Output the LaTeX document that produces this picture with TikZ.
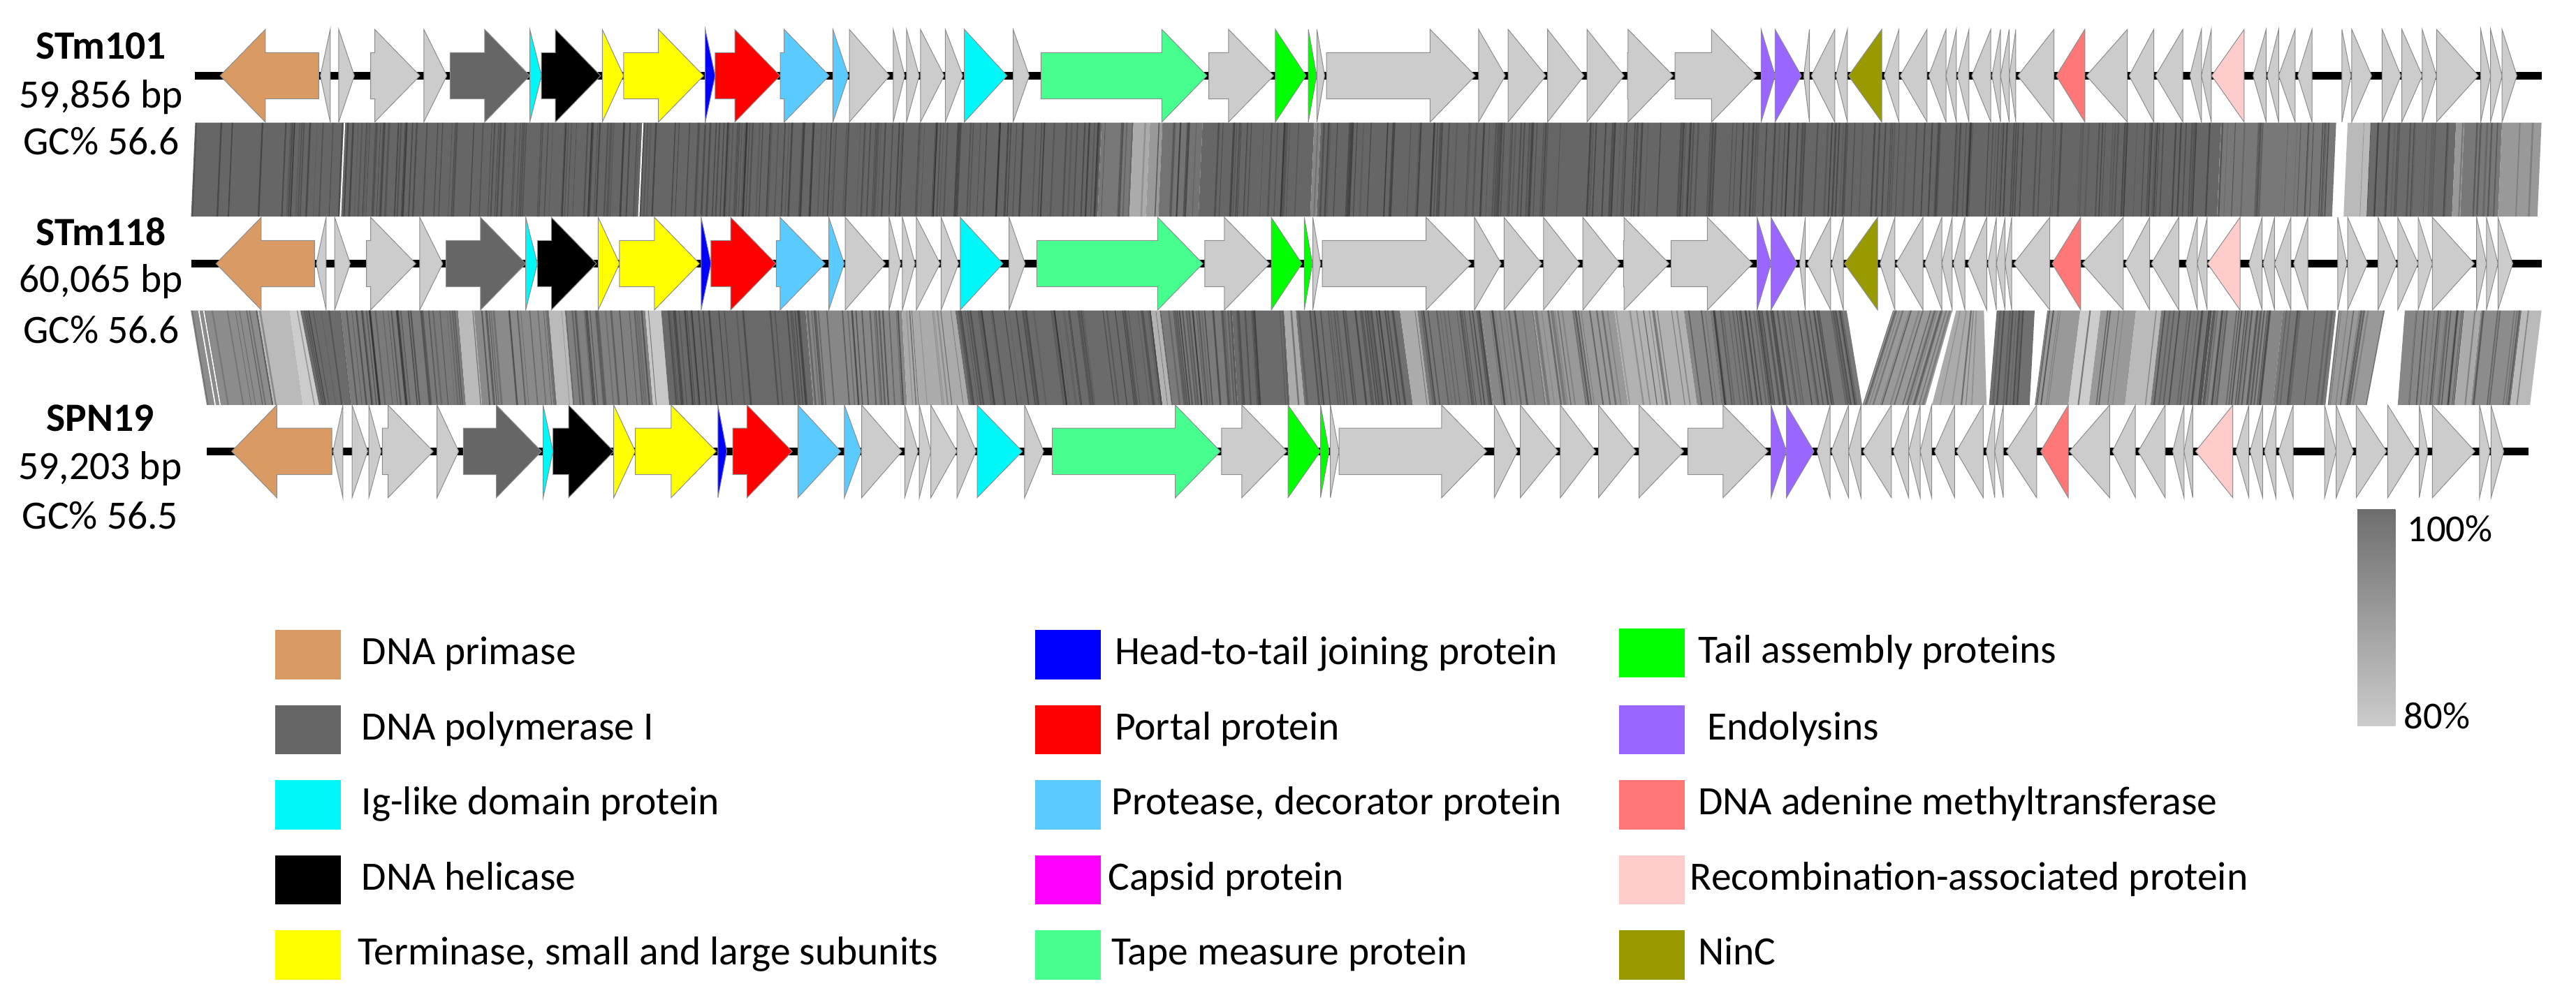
\documentclass[tikz,border=0pt]{standalone}
\usepackage{fontspec}
\setmainfont{Carlito}
\usepackage{xcolor}
\usetikzlibrary{positioning}

% gene colours
\definecolor{primase}{HTML}{D99A64}
\definecolor{polI}{HTML}{666666}
\definecolor{iglike}{HTML}{00F8F8}
\definecolor{helicase}{HTML}{000000}
\definecolor{terminase}{HTML}{FFFF00}
\definecolor{headtail}{HTML}{0000FF}
\definecolor{portal}{HTML}{FF0000}
\definecolor{protease}{HTML}{5BCBFF}
\definecolor{capsid}{HTML}{FF00FF}
\definecolor{tapemeasure}{HTML}{47FF8F}
\definecolor{tailasm}{HTML}{00FF00}
\definecolor{endolysin}{HTML}{9966FF}
\definecolor{methylase}{HTML}{FF7777}
\definecolor{recomb}{HTML}{FFCCCC}
\definecolor{ninc}{HTML}{999900}
\definecolor{hypo}{HTML}{CCCCCC}

% forward gene: start, end, colour (row height in \rowy)
\newcommand{\gfwd}[3]{%
  \pgfmathsetmacro{\gbase}{max(#1,#2-27.5)}%
  \filldraw[gene, fill=#3] (#1,\rowy-14.1) -- (\gbase,\rowy-14.1) -- (\gbase,\rowy-28.2) -- (#2,\rowy)
    -- (\gbase,\rowy+28.2) -- (\gbase,\rowy+14.1) -- (#1,\rowy+14.1) -- cycle;}
% reverse gene: tip, end, colour
\newcommand{\grev}[3]{%
  \pgfmathsetmacro{\gbase}{min(#2,#1+27.5)}%
  \filldraw[gene, fill=#3] (#2,\rowy-14.1) -- (\gbase,\rowy-14.1) -- (\gbase,\rowy-28.2) -- (#1,\rowy)
    -- (\gbase,\rowy+28.2) -- (\gbase,\rowy+14.1) -- (#2,\rowy+14.1) -- cycle;}
% similarity block: top x1, top x2, bottom x1, bottom x2, shade, streak density
\newcommand{\bandpiece}[6]{%
  \fill[#5] (#1,\bandtop) -- (#2,\bandtop) -- (#4,\bandbot) -- (#3,\bandbot) -- cycle;
  \pgfmathtruncatemacro{\nstreak}{max(1,(#2-#1)*#6)}%
  \foreach \k in {1,...,\nstreak}{%
    \pgfmathsetmacro{\posf}{rnd}%
    \pgfmathsetmacro{\swidth}{0.2+0.6*rnd}%
    \pgfmathsetmacro{\sop}{0.15+0.35*rnd}%
    \draw[streak, line width=\swidth pt, opacity=\sop]
      ({#1+\posf*(#2-#1)},\bandtop) -- ({#3+\posf*(#4-#3)},\bandbot);
  }}

% gene map shared by STm101 and STm118
\newcommand{\genesSTm}{%
  \grev{134}{194}{primase}
  \grev{195}{201}{hypo}
  \gfwd{206.2}{215.7}{hypo}
  \gfwd{225.6}{255.6}{hypo}
  \gfwd{258}{272}{hypo}
  \gfwd{274}{322.5}{polI}
  \gfwd{322.5}{329.6}{iglike}
  \gfwd{329.6}{365.6}{helicase}
  \gfwd{366.6}{379.6}{terminase}
  \gfwd{379.6}{428.3}{terminase}
  \gfwd{429.3}{435.3}{headtail}
  \gfwd{435.3}{474.8}{portal}
  \gfwd{475}{504.8}{protease}
  \gfwd{507}{516.4}{protease}
  \gfwd{517}{541.5}{hypo}
  \gfwd{543.7}{550.7}{hypo}
  \gfwd{551.8}{559.5}{hypo}
  \gfwd{560.3}{574.7}{hypo}
  \gfwd{575.4}{586}{hypo}
  \gfwd{587}{613}{iglike}
  \gfwd{616.7}{626.5}{hypo}
  \gfwd{633.6}{734.7}{tapemeasure}
  \gfwd{735.8}{775.3}{hypo}
  \gfwd{776.3}{795}{tailasm}
  \gfwd{796.4}{801.4}{tailasm}
  \gfwd{801.6}{806.3}{hypo}
  \gfwd{807.4}{898}{hypo}
  \gfwd{900}{916.3}{hypo}
  \gfwd{918}{941}{hypo}
  \gfwd{942}{964.2}{hypo}
  \gfwd{966}{988.6}{hypo}
  \gfwd{990.7}{1018.5}{hypo}
  \gfwd{1019.6}{1069.3}{hypo}
  \gfwd{1072}{1080.5}{endolysin}
  \gfwd{1080.5}{1096.5}{endolysin}
  \grev{1097.9}{1101.4}{hypo}
  \grev{1102.5}{1116.8}{hypo}
  \grev{1117.5}{1124.5}{hypo}
  \grev{1125.2}{1145.4}{ninc}
  \grev{1146.8}{1155.9}{hypo}
  \grev{1156.6}{1173}{hypo}
  \grev{1174}{1184.5}{hypo}
  \grev{1184.5}{1190.8}{hypo}
  \grev{1191.5}{1198.5}{hypo}
  \grev{1200.2}{1211.8}{hypo}
  \grev{1212.5}{1217.7}{hypo}
  \grev{1217.7}{1223}{hypo}
  \grev{1223}{1227}{hypo}
  \grev{1228.2}{1250.2}{hypo}
  \grev{1251.6}{1269}{methylase}
  \grev{1270}{1294.9}{hypo}
  \grev{1296}{1311}{hypo}
  \grev{1312}{1328.7}{hypo}
  \grev{1333}{1340}{hypo}
  \grev{1340}{1346}{hypo}
  \grev{1346.2}{1366}{recomb}
  \grev{1371.4}{1379.4}{hypo}
  \grev{1380}{1387}{hypo}
  \grev{1387}{1397}{hypo}
  \grev{1398.6}{1407.3}{hypo}
  \gfwd{1425.5}{1431}{hypo}
  \gfwd{1431.5}{1443.6}{hypo}
  \gfwd{1450}{1461.4}{hypo}
  \gfwd{1462}{1474.4}{hypo}
  \gfwd{1474.4}{1483.1}{hypo}
  \gfwd{1483.1}{1508.6}{hypo}
  \gfwd{1510}{1516}{hypo}
  \gfwd{1516}{1523}{hypo}
  \gfwd{1523}{1532}{hypo}
}

\begin{document}
\begin{tikzpicture}[
        x=0.025cm, y=-0.025cm,
        gene/.style={draw=black!45, line width=0.3pt},
        backbone/.style={line width=3.5pt, black},
        streak/.style={black!85},
        genome/.style={font=\fontsize{17.4}{20}\selectfont\bfseries, inner sep=0pt,
            text height=12pt, text depth=3.5pt},
        info/.style={font=\fontsize{17.4}{20}\selectfont, inner sep=0pt,
            text height=12pt, text depth=3.5pt},
        legsq/.style={minimum width=1cm, minimum height=0.75cm, inner sep=0pt},
        legtxt/.style={font=\fontsize{17.4}{20}\selectfont, inner sep=0pt,
            text height=12pt, text depth=3.5pt},
        pct/.style={font=\fontsize{16.5}{19}\selectfont, inner sep=0pt, anchor=west}
    ]
\useasboundingbox (0,0) rectangle (1568,613);
\pgfmathsetseed{4217}

% Similarity band STm101 - STm118
\def\bandtop{74.7}\def\bandbot{131.8}
\bandpiece{118.8}{670.6}{116.3}{668.1}{black!60}{0.35}
\bandpiece{670.6}{690}{668.1}{687.5}{black!53}{0.3}
\bandpiece{690}{700}{687.5}{697.5}{black!33}{0.1}
\bandpiece{700}{707.6}{697.5}{705.1}{black!40}{0.3}
\bandpiece{707.6}{732}{705.1}{729.5}{black!55}{0.5}
\bandpiece{732}{800}{729.5}{797.5}{black!60}{0.35}
\bandpiece{800}{804}{797.5}{801.5}{black!47}{0.1}
\bandpiece{804}{1352}{801.5}{1349.5}{black!60}{0.35}
\bandpiece{1352}{1422}{1349.5}{1419.5}{black!53}{0.25}
\bandpiece{1429}{1443}{1426.5}{1440.5}{black!27}{0.05}
\bandpiece{1443}{1495}{1440.5}{1492.5}{black!58}{0.35}
\bandpiece{1495}{1500}{1492.5}{1497.5}{black!40}{0.1}
\bandpiece{1500}{1523}{1497.5}{1520.5}{black!53}{0.3}
\bandpiece{1523}{1547}{1520.5}{1544.5}{black!40}{0.1}
\draw[white, line width=0.6pt] (209.7,\bandtop) -- (207.2,\bandbot);
\draw[white, line width=0.6pt] (391.3,\bandtop) -- (388.8,\bandbot);

% Similarity band STm118 - SPN19
\def\bandtop{189}\def\bandbot{246.5}
\bandpiece{116.1}{156.7}{125.8}{166.5}{black!45}{0.3}
\bandpiece{156.7}{176.3}{166.5}{184.4}{black!27}{0.05}
\bandpiece{176.3}{182.8}{184.4}{194.2}{black!20}{0.05}
\bandpiece{182.8}{207.2}{194.2}{213.7}{black!58}{0.3}
\bandpiece{207.2}{278.8}{213.7}{283.6}{black!52}{0.5}
\bandpiece{278.8}{288.5}{283.6}{293.4}{black!27}{0.05}
\bandpiece{288.5}{334.1}{293.4}{339}{black!46}{0.4}
\bandpiece{334.1}{343.8}{339}{348.7}{black!27}{0.1}
\bandpiece{343.8}{392.7}{348.7}{397.5}{black!50}{0.5}
\bandpiece{392.7}{402.4}{397.5}{407.3}{black!22}{0.05}
\bandpiece{402.4}{490.3}{407.3}{495.2}{black!59}{0.35}
\bandpiece{490.3}{548.9}{495.2}{552.1}{black!47}{0.4}
\bandpiece{548.9}{581.4}{552.1}{589.5}{black!33}{0.3}
\bandpiece{581.4}{700.6}{589.5}{707.6}{black!58}{0.4}
\bandpiece{700.6}{705.8}{707.6}{713}{black!30}{0.05}
\bandpiece{705.8}{749.9}{713}{753.4}{black!52}{0.6}
\bandpiece{749.9}{781.6}{753.4}{785.1}{black!58}{0.3}
\bandpiece{781.6}{788.7}{785.1}{794}{black!33}{0.05}
\bandpiece{788.7}{852.1}{794}{860}{black!56}{0.5}
\bandpiece{852.1}{862.7}{860}{870}{black!33}{0.1}
\bandpiece{862.7}{901.5}{870}{909}{black!53}{0.5}
\bandpiece{901.5}{933.2}{909}{941}{black!47}{0.4}
\bandpiece{933.2}{982.6}{941}{991}{black!40}{0.4}
\bandpiece{982.6}{1024.9}{991}{1033}{black!30}{0.3}
\bandpiece{1024.9}{1041.4}{1033}{1048.3}{black!47}{0.3}
\bandpiece{1041.4}{1124}{1048.3}{1133.5}{black!53}{0.6}
\bandpiece{1152.4}{1188.4}{1133.9}{1172}{black!40}{0.6}
\bandpiece{1190.7}{1207.6}{1176}{1209.2}{black!33}{0.3}
\bandpiece{1215.4}{1238.5}{1210.7}{1235.4}{black!56}{0.4}
\bandpiece{1246.2}{1266.3}{1238.5}{1259}{black!40}{0.3}
\bandpiece{1266.3}{1278.6}{1259}{1271.5}{black!20}{0.1}
\bandpiece{1278.6}{1300.2}{1271.5}{1293.5}{black!40}{0.3}
\bandpiece{1300.2}{1315.6}{1293.5}{1309}{black!27}{0.1}
\bandpiece{1315.6}{1346.5}{1309}{1340}{black!53}{0.5}
\bandpiece{1346.5}{1389.7}{1340}{1383.5}{black!47}{0.8}
\bandpiece{1389.7}{1422}{1383.5}{1415.5}{black!53}{0.3}
\bandpiece{1423.5}{1451.5}{1417}{1440.6}{black!40}{0.4}
\bandpiece{1463.8}{1500}{1459.5}{1494}{black!47}{0.5}
\bandpiece{1500}{1510}{1494}{1504}{black!33}{0.2}
\bandpiece{1510}{1535}{1504}{1528}{black!45}{0.4}
\bandpiece{1535}{1547}{1528}{1540}{black!27}{0.1}
\draw[white, line width=0.5pt] (121,\bandtop) -- (131,\bandbot);
\draw[white, line width=0.5pt] (124,\bandtop) -- (134,\bandbot);

% STm101
\def\rowy{46.1}
\draw[backbone] (118.8,\rowy) -- (1547,\rowy);
\genesSTm

% STm118
\begin{scope}[xshift=-0.0625cm]
\def\rowy{160.5}
\draw[backbone] (118.8,\rowy) -- (1549.5,\rowy);
\genesSTm
\end{scope}

% SPN19
\def\rowy{274.8}
\draw[backbone] (125.8,\rowy) -- (1539,\rowy);
\grev{141}{202}{primase}
\grev{202.7}{208.7}{hypo}
\gfwd{214.3}{223.8}{hypo}
\gfwd{224.5}{232}{hypo}
\gfwd{232.7}{263.7}{hypo}
\gfwd{266}{279.2}{hypo}
\gfwd{282}{329.6}{polI}
\gfwd{330.6}{336.6}{iglike}
\gfwd{336.6}{373.6}{helicase}
\gfwd{373.6}{386.7}{terminase}
\gfwd{386.7}{436}{terminase}
\gfwd{437}{442.4}{headtail}
\gfwd{446}{482.2}{portal}
\gfwd{485.7}{511.8}{protease}
\gfwd{514}{524.2}{protease}
\gfwd{524.5}{549}{hypo}
\gfwd{550.7}{558.8}{hypo}
\gfwd{559.6}{566.6}{hypo}
\gfwd{566.6}{582.5}{hypo}
\gfwd{582.5}{594.1}{hypo}
\gfwd{594.8}{622.3}{iglike}
\gfwd{623.7}{635.3}{hypo}
\gfwd{640.6}{742.9}{tapemeasure}
\gfwd{743.6}{783.4}{hypo}
\gfwd{784}{803.8}{tailasm}
\gfwd{803.8}{809}{tailasm}
\gfwd{809.8}{815}{hypo}
\gfwd{815.1}{905}{hypo}
\gfwd{909.6}{923.7}{hypo}
\gfwd{925.4}{948.4}{hypo}
\gfwd{949.8}{971.3}{hypo}
\gfwd{973}{995.9}{hypo}
\gfwd{997.7}{1024.9}{hypo}
\gfwd{1027.3}{1076.3}{hypo}
\gfwd{1078}{1087.4}{endolysin}
\gfwd{1087.4}{1104.2}{endolysin}
\grev{1106}{1114}{hypo}
\grev{1114.7}{1125.2}{hypo}
\grev{1125.2}{1132.8}{hypo}
\grev{1133.9}{1151.3}{hypo}
\grev{1152.4}{1161.8}{hypo}
\grev{1161.8}{1168.8}{hypo}
\grev{1168.8}{1175.8}{hypo}
\grev{1177.5}{1189.8}{hypo}
\grev{1190.8}{1207.2}{hypo}
\grev{1209}{1214.2}{hypo}
\grev{1214.2}{1219.4}{hypo}
\grev{1221.2}{1239.7}{hypo}
\grev{1242.1}{1258.9}{methylase}
\grev{1259.6}{1284.1}{hypo}
\grev{1285.8}{1299.8}{hypo}
\grev{1301.5}{1317.9}{hypo}
\grev{1322.5}{1329.4}{hypo}
\grev{1329.4}{1334.7}{hypo}
\grev{1336.4}{1359.1}{recomb}
\grev{1360.9}{1368.9}{hypo}
\grev{1369.6}{1377.3}{hypo}
\grev{1378.3}{1385.3}{hypo}
\grev{1387}{1395.8}{hypo}
\gfwd{1415}{1422}{hypo}
\gfwd{1422}{1432.5}{hypo}
\gfwd{1434.2}{1452.7}{hypo}
\gfwd{1453.4}{1470.9}{hypo}
\gfwd{1472.6}{1477.8}{hypo}
\gfwd{1480.6}{1506.5}{hypo}
\gfwd{1509.3}{1515.6}{hypo}
\gfwd{1516.3}{1524}{hypo}

% Genome labels
\node[genome] (stm101) at (61.5,30) {STm101};
\node[info] (len101) at (61.5,59.5) {59,856 bp};
\node[info] (gc101) at (61.5,88) {GC\% 56.6};
\node[genome] (stm118) at (61.5,143.5) {STm118};
\node[info] (len118) at (61.5,172) {60,065 bp};
\node[info] (gc118) at (61.5,203) {GC\% 56.6};
\node[genome] (spn19) at (61,256.5) {SPN19};
\node[info] (len19) at (61,286) {59,203 bp};
\node[info] (gc19) at (61,316) {GC\% 56.5};

% Identity scale
\shade[top color=black!57, bottom color=black!20] (1435,310) rectangle (1458,442);
\node[pct] (pcthigh) at (1465,322) {100\%};
\node[pct] (pctlow) at (1463,436) {80\%};

% Legend, first column
\node[legsq, fill=primase] (sq1) at (187.5,398.6) {};
\node[legtxt, right=0.3cm of sq1] (lab1) {DNA primase};
\node[legsq, fill=polI] (sq2) at (187.5,444.3) {};
\node[legtxt, right=0.3cm of sq2] (lab2) {DNA polymerase I};
\node[legsq, fill=iglike] (sq3) at (187.5,490) {};
\node[legtxt, right=0.3cm of sq3] (lab3) {Ig-like domain protein};
\node[legsq, fill=helicase] (sq4) at (187.5,535.7) {};
\node[legtxt, right=0.3cm of sq4] (lab4) {DNA helicase};
\node[legsq, fill=terminase] (sq5) at (187.5,581.4) {};
\node[legtxt, right=0.25cm of sq5] (lab5) {Terminase, small and large subunits};

% second column
\node[legsq, fill=headtail] (sq6) at (650,398.6) {};
\node[legtxt, right=0.2cm of sq6] (lab6) {Head-to-tail joining protein};
\node[legsq, fill=portal] (sq7) at (650,444.3) {};
\node[legtxt, right=0.2cm of sq7] (lab7) {Portal protein};
\node[legsq, fill=protease] (sq8) at (650,490) {};
\node[legtxt, right=0.15cm of sq8] (lab8) {Protease, decorator protein};
\node[legsq, fill=capsid] (sq9) at (650,535.7) {};
\node[legtxt, right=0.1cm of sq9] (lab9) {Capsid protein};
\node[legsq, fill=tapemeasure] (sq10) at (650,581.4) {};
\node[legtxt, right=0.15cm of sq10] (lab10) {Tape measure protein};

% third column
\node[legsq, fill=tailasm] (sq11) at (1005.5,397.5) {};
\node[legtxt, right=0.19cm of sq11] (lab11) {Tail assembly proteins};
\node[legsq, fill=endolysin] (sq12) at (1005.5,444.3) {};
\node[legtxt, right=0.33cm of sq12] (lab12) {Endolysins};
\node[legsq, fill=methylase] (sq13) at (1005.5,490) {};
\node[legtxt, right=0.19cm of sq13] (lab13) {DNA adenine methyltransferase};
\node[legsq, fill=recomb] (sq14) at (1005.5,535.7) {};
\node[legtxt, right=0.07cm of sq14] (lab14) {Recombination-associated protein};
\node[legsq, fill=ninc] (sq15) at (1005.5,581.4) {};
\node[legtxt, right=0.19cm of sq15] (lab15) {NinC};

\end{tikzpicture}
\end{document}
